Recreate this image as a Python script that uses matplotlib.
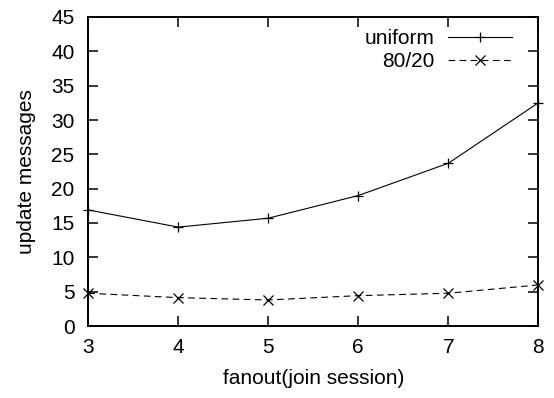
import matplotlib
matplotlib.use("Agg")
import matplotlib.pyplot as plt

plt.rcParams['font.family'] = ['Liberation Sans', 'DejaVu Sans']

fanout = [3, 4, 5, 6, 7, 8]
uniform = [16.9, 14.4, 15.7, 19.0, 23.7, 32.5]
skewed = [4.77, 4.13, 3.79, 4.42, 4.77, 5.98]
xticks = [3, 4, 5, 6, 7, 8]
yticks = [0, 5, 10, 15, 20, 25, 30, 35, 40, 45]

W, H = 554, 398
L, R, T, B = 88.3, 538.3, 17.0, 326.0

fig = plt.figure(figsize=(W / 100, H / 100), dpi=100)
ax = fig.add_axes([L / W, 1 - B / H, (R - L) / W, (B - T) / H])

ax.plot(fanout, uniform, color='black', lw=0.8, marker='+', ms=7, mew=0.9,
        label='uniform', clip_on=False, zorder=3)
ax.plot(fanout, skewed, color='black', lw=0.8, ls=(0, (6.0, 4.0)), marker='x',
        ms=6.5, mew=0.9, label='80/20', clip_on=False, zorder=3)

fs = 15
ax.set_xlim(3, 8)
ax.set_ylim(0, 45)
ax.set_xticks(xticks)
ax.set_yticks(yticks)
ax.tick_params(direction='in', top=True, right=True, length=7, width=1.1, labelsize=fs)
ax.tick_params(axis='x', pad=8.5)
ax.tick_params(axis='y', pad=10)
for s in ax.spines.values():
    s.set_linewidth(1.4)

ax.set_xlabel('fanout(join session)', fontsize=fs)
ax.xaxis.set_label_coords(0.5, (B - 369.5) / (B - T))
ax.set_ylabel('update messages', fontsize=fs)
ax.yaxis.set_label_coords((36 - L) / (R - L), 0.5)

leg = ax.legend(loc='upper right', frameon=False, markerfirst=False, fontsize=fs,
                handlelength=3.07, handletextpad=0.64, labelspacing=0.21,
                borderaxespad=0.0, borderpad=0.0,
                bbox_to_anchor=((511.7 - L) / (R - L), 1 - (29 - T) / (B - T)))

fig.savefig('out.png', dpi=100)
